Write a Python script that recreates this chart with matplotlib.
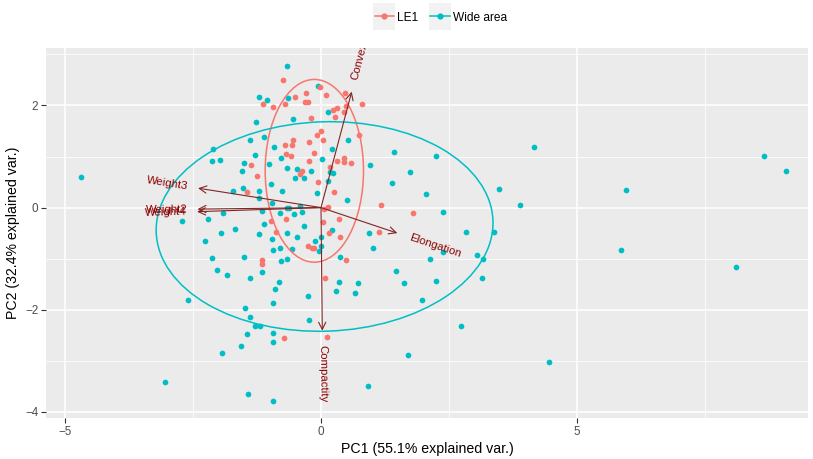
import numpy as np
import matplotlib
matplotlib.use("Agg")
import matplotlib.pyplot as plt
import matplotlib.patches as patches
from matplotlib.lines import Line2D
from matplotlib.legend_handler import HandlerLine2D
from matplotlib.textpath import TextPath
from matplotlib.font_manager import FontProperties

plt.rcParams['font.family'] = ['Liberation Sans', 'DejaVu Sans']

# PCA scores, one pair of lists per group
le1_x = [-0.74, -0.02, -0.29, 0.46, -0.51, 0.10, -1.14, -0.93, -0.70, -0.31,
         -0.26, 0.23, 0.31, 0.49, 0.81, 0.27, 0.44, -0.20, -0.08, 0.00,
         0.75, -0.54, -0.23, 0.04, -0.70, -0.57, -0.68, -0.59, -0.13, -0.23,
         0.31, 0.44, 0.44, 0.58, -1.37, -0.38, -0.41, 0.18, -1.24, -0.05,
         -1.45, 0.25, 0.06, 0.14, -0.98, -0.68, 0.03, 0.35, -0.87, 0.16,
         0.37, -0.25, -0.18, -0.13, -1.15, -1.15, 0.48, 0.08, 1.14, -0.72,
         0.11, 1.17, 1.80]
le1_y = [2.50, 2.36, 2.25, 2.25, 2.17, 2.21, 2.02, 1.96, 2.02, 2.06,
         2.06, 1.91, 1.95, 1.98, 2.02, 1.78, 1.87, 1.75, 1.42, 1.49,
         1.42, 1.32, 1.28, 1.32, 1.23, 1.23, 1.05, 1.01, 1.06, 0.91,
         0.91, 0.97, 0.89, 0.88, 0.84, 0.72, 0.65, 0.80, 0.62, 0.51,
         0.30, 0.31, -0.03, 0.02, -0.26, -0.23, -0.29, -0.23, -0.47, -0.50,
         -0.58, -0.76, -0.79, -0.79, -1.02, -1.11, -1.02, -1.37, -0.47, -2.56,
         -2.54, 0.05, -0.11]

wide_x = [-0.66, -0.05, -1.21, -1.05, -0.64, 0.14, -0.54, -1.26, -1.39, -1.11,
          0.52, -2.10, -0.91, 0.22, -2.12, -1.97, -1.28, -0.79, -1.50, -1.54,
          -1.01, -0.66, -0.47, -0.50, -0.33, -0.20, 0.01, 0.18, 0.24, 0.96,
          0.14, -0.98, -1.71, -1.52, -1.22, -0.76, -0.08, -1.22, -0.96, -0.41,
          -0.66, -0.62, 0.50, -1.91, -1.15, -0.80, -0.53, -0.37, -2.20, -2.72,
          -1.11, -0.33, -1.95, -1.67, -1.21, -0.66, 0.22, 0.94, -2.27, -0.96,
          -0.47, -0.12, 0.00, 1.02, -0.94, -0.80, -0.57, -0.03, 0.00, -2.13,
          -1.50, -0.79, -0.67, 0.37, -2.04, -1.83, -1.39, -1.15, -0.82, -0.89,
          0.36, 0.73, 0.29, 0.66, -0.25, -2.59, -1.48, -0.93, -1.39, -1.28,
          -1.19, -0.23, -1.45, -0.93, -0.93, -1.56, -1.94, -1.42, -0.93, 0.91,
          4.15, 1.43, 2.25, 1.74, 1.39, 3.48, 2.05, 3.89, 2.39, 2.83,
          3.37, 3.04, 3.16, 2.13, 2.39, 1.47, 1.62, 2.25, 3.14, 1.97,
          8.66, 9.09, 5.96, 5.86, 8.11, 4.45, -4.69, -3.04, 2.73, 1.70]
wide_y = [2.77, 2.38, 2.16, 2.11, 2.14, 1.87, 1.73, 1.67, 1.32, 1.39,
          1.32, 1.14, 1.18, 1.14, 0.91, 0.93, 1.03, 0.98, 0.88, 0.72,
          0.86, 0.77, 0.76, 0.58, 0.57, 0.72, 0.95, 0.70, 0.67, 0.84,
          0.52, 0.46, 0.33, 0.39, 0.33, 0.33, 0.29, 0.18, 0.09, 0.03,
          -0.01, -0.01, 0.15, -0.10, -0.06, -0.11, -0.13, -0.09, -0.23, -0.27,
          -0.32, -0.36, -0.49, -0.42, -0.51, -0.49, -0.44, -0.50, -0.65, -0.62,
          -0.58, -0.65, -0.57, -0.79, -0.83, -0.79, -0.81, -0.85, -0.76, -0.98,
          -0.97, -1.04, -1.01, -0.97, -1.23, -1.32, -1.37, -1.26, -1.46, -1.60,
          -1.46, -1.48, -1.63, -1.68, -1.73, -1.81, -1.97, -1.87, -2.14, -2.31,
          -2.31, -2.20, -2.48, -2.46, -2.63, -2.71, -2.84, -3.65, -3.78, -3.49,
          1.18, 1.08, 1.01, 0.69, 0.48, 0.37, 0.26, 0.05, -0.09, -0.47,
          -0.47, -0.93, -1.00, -1.01, -0.87, -1.24, -1.47, -1.43, -1.38, -1.81,
          1.01, 0.71, 0.34, -0.83, -1.17, -3.03, 0.60, -3.42, -2.32, -2.88]

# variable loadings (arrow tips)
var_names = ['Convexity', 'Weight3', 'Weight2', 'Weight4', 'Elongation', 'Compactity']
var_x = [0.60, -2.40, -2.41, -2.42, 1.49, 0.025]
var_y = [2.27, 0.38, -0.03, -0.08, -0.50, -2.41]

# normal-probability ellipses: centre, full width, full height, angle
ell_center = {'LE1': (-0.13, 0.72), 'Wide area': (0.07, -0.37)}
ell_size = {'LE1': (1.92, 3.58), 'Wide area': (6.58, 4.10)}
ell_angle = {'LE1': 0.0, 'Wide area': 2.0}

groups = ['LE1', 'Wide area']
colors = {'LE1': '#F8766D', 'Wide area': '#00BFC4'}

fig = plt.figure(figsize=(8.13, 4.59), dpi=100)
ax = fig.add_axes([46 / 813, 1 - 418 / 459, 762 / 813, 370 / 459])
ax.set_facecolor('#EBEBEB')
for s in ax.spines.values():
    s.set_visible(False)

ax.set_xlim(-5.37, 9.51)
ax.set_ylim(-4.12, 3.125)
ax.set_xticks([-5, 0, 5])
ax.set_yticks([-4, -2, 0, 2])
ax.set_xticks([-2.5, 2.5, 7.5], minor=True)
ax.set_yticks([-3, -1, 1, 3], minor=True)
ax.grid(which='major', color='white', linewidth=1.1)
ax.grid(which='minor', color='white', linewidth=0.55)
ax.set_axisbelow(True)
ax.tick_params(which='major', length=3.5, width=0.8, color='#333333',
               labelcolor='#4D4D4D', labelsize=8.4, pad=2)
ax.tick_params(which='minor', length=0)
ax.set_xlabel('PC1 (55.1% explained var.)', fontsize=10.2, labelpad=3)
ax.set_ylabel('PC2 (32.4% explained var.)', fontsize=10.2, labelpad=4)

ax.scatter(wide_x, wide_y, s=17, color=colors['Wide area'], linewidths=0, zorder=3)
ax.scatter(le1_x, le1_y, s=17, color=colors['LE1'], linewidths=0, zorder=3)

for g in groups:
    w, h = ell_size[g]
    ax.add_patch(patches.Ellipse(ell_center[g], w, h, angle=ell_angle[g], fill=False,
                                 edgecolor=colors[g], linewidth=1.1, zorder=4))

# loading arrows and their labels
fp = FontProperties(family='Liberation Sans', size=8.2)
for name, vx, vy in zip(var_names, var_x, var_y):
    ax.annotate('', xy=(vx, vy), xytext=(0, 0),
                arrowprops=dict(arrowstyle='->,head_length=0.4,head_width=0.2',
                                color='#832424', lw=0.8, mutation_scale=13,
                                shrinkA=0, shrinkB=0), zorder=5)
    ang = np.degrees(np.arctan(vy / vx))
    w = TextPath((0, 0), name, prop=fp).get_extents().width
    sgn = 1 if vx > 0 else -1
    off = 0.25 * w * sgn
    ax.annotate(name, xy=(vx, vy), xytext=(off * np.cos(np.radians(ang)), off * np.sin(np.radians(ang))),
                textcoords='offset points', rotation=ang, rotation_mode='anchor',
                ha='left' if vx > 0 else 'right', va='center', fontsize=8.2,
                color='darkred', clip_on=True, zorder=6)


class KeyHandler(HandlerLine2D):
    def create_artists(self, legend, orig_handle, xdescent, ydescent, width, height, fontsize, trans):
        bg = patches.Rectangle((-xdescent - 1, -ydescent - 5), width + 2, height + 10,
                               facecolor='#F2F2F2', edgecolor='none', transform=trans)
        arts = super().create_artists(legend, orig_handle, xdescent, ydescent, width, height, fontsize, trans)
        return [bg] + list(arts)


handles = [Line2D([], [], color=colors[g], marker='o', markersize=4.5, linewidth=1.1, markeredgewidth=0)
           for g in groups]
fig.legend(handles, groups, loc='center', bbox_to_anchor=(441 / 813, 1 - 17 / 459), ncol=2,
           frameon=False, fontsize=8.6, handlelength=1.6, handleheight=1.2, handletextpad=0.3,
           columnspacing=1.0, handler_map={Line2D: KeyHandler(numpoints=1)})

fig.savefig('out.png', dpi=100)
